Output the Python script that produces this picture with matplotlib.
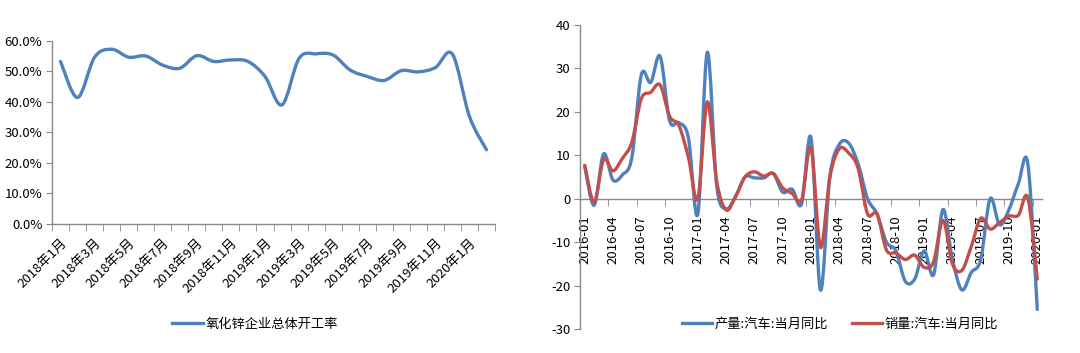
import numpy as np
import matplotlib.pyplot as plt
from matplotlib.path import Path
from matplotlib.patches import PathPatch
from matplotlib.lines import Line2D

plt.rcParams['font.family'] = ['Noto Sans CJK SC', 'DejaVu Sans']
plt.rcParams['axes.unicode_minus'] = False

# left chart: zinc oxide plant operating rate, 2018-01 .. 2020-02
zno_months = ["%d年%d月" % (2018 + (i // 12), i % 12 + 1) for i in range(26)]
zno_rate = [53.2, 41.4, 54.6, 57.2, 54.6, 55.0, 52.0, 51.0, 55.1, 53.2, 53.7, 53.2, 48.3,
            39.0, 54.2, 55.7, 55.3, 50.4, 48.3, 47.0, 50.2, 49.8, 51.2, 55.6, 35.2, 24.3]

# right chart: auto production / sales yoy, 2016-01 .. 2020-01
car_months = ["%d-%02d" % (2016 + (i // 12), i % 12 + 1) for i in range(49)]
prod_yoy = [7.5, -1.5, 10.3, 4.3, 5.5, 9.5, 28.5, 26.8, 32.8, 18.0, 17.5, 14.0, -3.5,
            33.7, 3.0, -2.3, 0.5, 5.0, 4.8, 4.8, 5.8, 1.5, 2.2, -1.2, 14.0, -21.0,
            5.0, 12.5, 12.8, 8.0, 0.0, -3.5, -10.0, -12.0, -19.0, -18.5, -12.0, -17.5,
            -2.5, -14.0, -21.0, -17.0, -14.0, 0.0, -6.0, -2.5, 3.5, 8.0, -25.5]
sales_yoy = [7.7, -0.8, 9.0, 6.4, 9.3, 13.0, 23.0, 24.5, 26.2, 19.0, 16.8, 9.5, 0.0,
             22.3, 4.0, -2.6, 0.5, 5.0, 6.2, 5.2, 5.8, 2.5, 1.2, -0.3, 11.8, -11.2,
             5.0, 11.5, 10.5, 7.0, -3.5, -3.5, -11.8, -12.5, -14.0, -13.0, -15.8, -14.5,
             -5.0, -15.0, -16.5, -11.0, -4.5, -7.0, -5.5, -4.0, -3.8, 0.2, -18.5]

BLUE = '#4F81BD'
RED = '#C0504D'
GREY = '#898989'


def smooth_line(ax, y, color):
    # Excel style smoothed line: cubic bezier through the points
    x = np.arange(len(y), dtype=float)
    y = np.asarray(y, dtype=float)
    verts = [(x[0], y[0])]
    codes = [Path.MOVETO]
    n = len(y)
    for i in range(n - 1):
        x0, y0 = (x[i - 1], y[i - 1]) if i > 0 else (x[i], y[i])
        x3, y3 = (x[i + 2], y[i + 2]) if i + 2 < n else (x[i + 1], y[i + 1])
        c1 = (x[i] + (x[i + 1] - x0) / 6, y[i] + (y[i + 1] - y0) / 6)
        c2 = (x[i + 1] - (x3 - x[i]) / 6, y[i + 1] - (y3 - y[i]) / 6)
        verts += [c1, c2, (x[i + 1], y[i + 1])]
        codes += [Path.CURVE4] * 3
    ax.add_patch(PathPatch(Path(verts, codes), facecolor='none', edgecolor=color,
                           lw=2.4, capstyle='round', joinstyle='round', zorder=3))


fig = plt.figure(figsize=(10.8, 3.53), dpi=100)

# ---- left
ax1 = fig.add_axes([52 / 1080, 1 - 224 / 353, 443 / 1080, 183.3 / 353])
smooth_line(ax1, zno_rate, BLUE)
ax1.set_xlim(-0.5, len(zno_rate) - 0.5)
ax1.set_ylim(0, 60)
ax1.set_yticks(np.arange(0, 61, 10))
ax1.set_yticklabels(["%.1f%%" % v for v in np.arange(0, 61, 10)], fontsize=9.5)
ax1.set_xticks(np.arange(0, 26, 2))
ax1.set_xticklabels(zno_months[::2], rotation=45, ha='right', rotation_mode='anchor', fontsize=9.5)
ax1.set_xticks(np.arange(-0.5, 26, 1), minor=True)
ax1.tick_params(axis='x', which='major', length=0, pad=9)
ax1.tick_params(axis='x', which='minor', length=5, color=GREY, direction='out')
ax1.tick_params(axis='y', length=4, color=GREY, direction='out', pad=3)
for s in ['top', 'right']:
    ax1.spines[s].set_visible(False)
for s in ['left', 'bottom']:
    ax1.spines[s].set_color(GREY)
    ax1.spines[s].set_linewidth(1.0)
fig.legend([Line2D([], [], color=BLUE, lw=2.4)], ['氧化锌企业总体开工率'],
           loc='center', bbox_to_anchor=(255 / 1080, 1 - 324 / 353), frameon=False,
           fontsize=9.5, handlelength=2.3, handletextpad=0.2)

# ---- right
ax2 = fig.add_axes([580 / 1080, 1 - 329 / 353, 462 / 1080, 304 / 353])
smooth_line(ax2, prod_yoy, BLUE)
smooth_line(ax2, sales_yoy, RED)
ax2.set_xlim(-0.5, len(prod_yoy) - 0.5)
ax2.set_ylim(-30, 40)
ax2.set_yticks(np.arange(-30, 41, 10))
ax2.tick_params(axis='y', length=4, color=GREY, direction='out', labelsize=9.5, pad=3)
ax2.spines['bottom'].set_position(('data', 0))
ax2.set_xticks(np.arange(0, 49, 3))
ax2.set_xticklabels(car_months[::3], rotation=90, va='top', fontsize=9.5)
ax2.set_xticks(np.arange(-0.5, 48, 3), minor=True)
ax2.tick_params(axis='x', which='major', length=0, pad=12)
ax2.tick_params(axis='x', which='minor', length=5, color=GREY, direction='out')
for s in ['top', 'right']:
    ax2.spines[s].set_visible(False)
for s in ['left', 'bottom']:
    ax2.spines[s].set_color(GREY)
    ax2.spines[s].set_linewidth(1.0)
fig.legend([Line2D([], [], color=BLUE, lw=2.4), Line2D([], [], color=RED, lw=2.4)],
           ['产量:汽车:当月同比', '销量:汽车:当月同比'],
           loc='center', bbox_to_anchor=(840 / 1080, 1 - 324 / 353), ncol=2, frameon=False,
           fontsize=9.5, handlelength=2.3, handletextpad=0.2, columnspacing=1.8)

fig.savefig('out.png', dpi=100)
